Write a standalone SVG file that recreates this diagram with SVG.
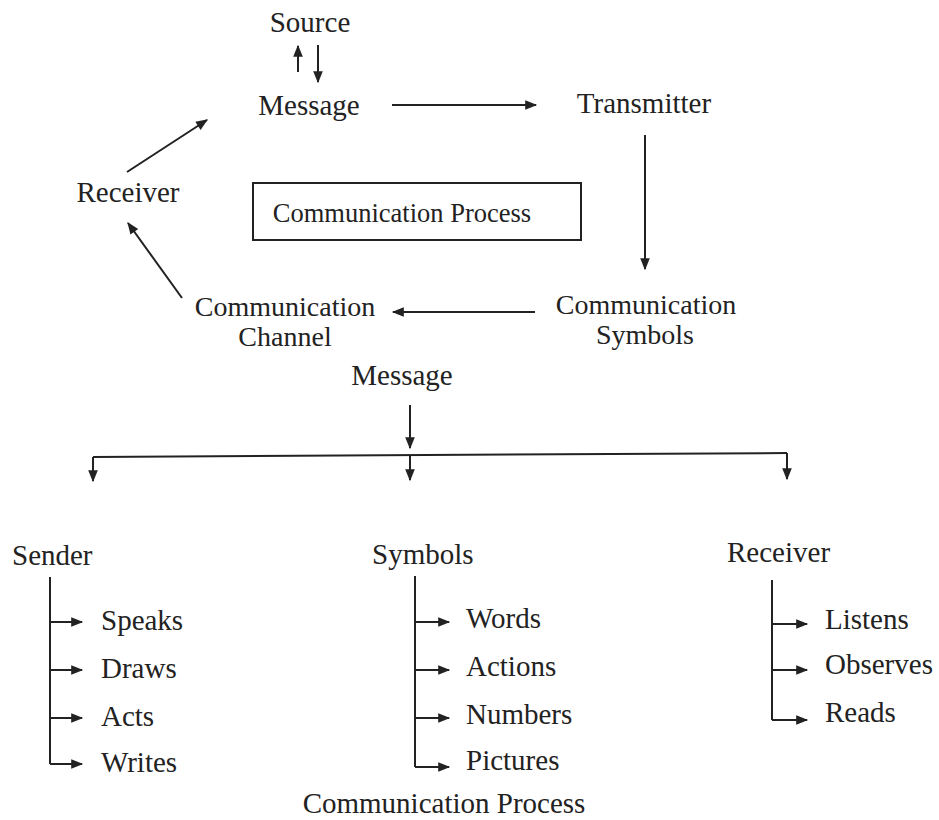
<svg xmlns="http://www.w3.org/2000/svg" width="939" height="820" viewBox="0 0 939 820">
<style>
text{font-family:"Liberation Serif","Times New Roman",serif;font-size:29px;fill:#222}
.c{text-anchor:middle}
.ln{stroke:#222;stroke-width:2;fill:none}
.hd{stroke:#222;stroke-width:2;fill:none;marker-end:url(#ah)}
</style>
<defs>
<marker id="ah" viewBox="0 0 10 10" refX="9" refY="5" markerWidth="13" markerHeight="12" markerUnits="userSpaceOnUse" orient="auto"><path d="M0,1 L10,5 L0,9 Z" fill="#222"/></marker>
</defs>
<rect width="939" height="820" fill="#fff"/>
<g id="source"><text class="c" x="310" y="32">Source</text></g>
<g id="message1"><text class="c" x="309" y="115">Message</text></g>
<g id="transmitter"><text class="c" x="644" y="113">Transmitter</text></g>
<g id="comm-symbols"><text class="c" x="646" y="314" style="font-size:28px">Communication</text><text class="c" x="645" y="344" style="font-size:28px">Symbols</text></g>
<g id="comm-channel"><text class="c" x="285" y="316" style="font-size:28px">Communication</text><text class="c" x="285" y="346" style="font-size:28px">Channel</text></g>
<g id="receiver1"><text class="c" x="128" y="202">Receiver</text></g>
<g id="process-box"><rect x="253" y="183" width="328" height="57" fill="none" stroke="#222" stroke-width="2"/><text class="c" x="402" y="222" style="font-size:26.5px">Communication Process</text></g>
<g id="message2"><text class="c" x="402" y="385">Message</text></g>
<g id="sender"><text x="12" y="565">Sender</text></g>
<g id="symbols"><text x="372" y="564">Symbols</text></g>
<g id="receiver2"><text x="727" y="562">Receiver</text></g>
<g id="sender-items"><text x="101" y="630">Speaks</text><text x="101" y="678">Draws</text><text x="101" y="726">Acts</text><text x="101" y="772">Writes</text></g>
<g id="symbol-items"><text x="466" y="628">Words</text><text x="466" y="676">Actions</text><text x="466" y="724">Numbers</text><text x="466" y="770">Pictures</text></g>
<g id="receiver-items"><text x="825" y="629">Listens</text><text x="825" y="674">Observes</text><text x="825" y="722">Reads</text></g>
<g id="caption"><text class="c" x="444" y="813">Communication  Process</text></g>
<g id="connectors">
<line class="hd" x1="298" y1="72" x2="298" y2="46"/>
<line class="hd" x1="318" y1="45" x2="318" y2="82"/>
<line class="hd" x1="392" y1="105" x2="536" y2="105"/>
<line class="hd" x1="645" y1="135" x2="645" y2="269"/>
<line class="hd" x1="535" y1="312" x2="393" y2="312"/>
<line class="hd" x1="182" y1="298" x2="128" y2="223"/>
<line class="hd" x1="127" y1="172" x2="207" y2="120"/>
<line class="hd" x1="410" y1="405" x2="410" y2="448"/>
<polyline class="ln" points="93,457 787,453"/>
<line class="hd" x1="93" y1="457" x2="93" y2="481"/>
<line class="hd" x1="410" y1="455" x2="410" y2="480"/>
<line class="hd" x1="787" y1="453" x2="787" y2="479"/>
<polyline class="ln" points="50,577 50,764"/>
<line class="hd" x1="50" y1="622" x2="82" y2="622"/>
<line class="hd" x1="50" y1="670" x2="82" y2="670"/>
<line class="hd" x1="50" y1="718" x2="82" y2="718"/>
<line class="hd" x1="50" y1="764" x2="82" y2="764"/>
<polyline class="ln" points="415,576 415,767"/>
<line class="hd" x1="415" y1="622" x2="449" y2="622"/>
<line class="hd" x1="415" y1="670" x2="449" y2="670"/>
<line class="hd" x1="415" y1="718" x2="449" y2="718"/>
<line class="hd" x1="415" y1="767" x2="449" y2="767"/>
<polyline class="ln" points="772,580 772,720"/>
<line class="hd" x1="772" y1="624" x2="807" y2="624"/>
<line class="hd" x1="772" y1="670" x2="807" y2="670"/>
<line class="hd" x1="772" y1="720" x2="807" y2="720"/>
</g>
</svg>
